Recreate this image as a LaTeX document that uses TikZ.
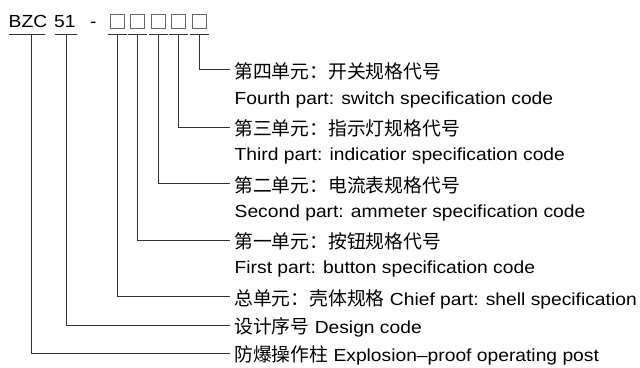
\documentclass[tikz,border=0pt]{standalone}
\usepackage{fontspec}
\setmainfont{Liberation Sans}[FakeStretch=1.1]
\newfontfamily\cjk{Noto Sans CJK SC}
\newcommand{\zh}[1]{{\cjk\fontsize{18.8}{20}\selectfont #1}}
\usetikzlibrary{positioning}

\begin{document}
\begin{tikzpicture}[x=1pt,y=-1pt,
  line/.style={draw=black!80,line width=0.9pt},
  code node/.style={inner sep=0,anchor=base west,font=\fontsize{17.5}{20}\selectfont},
  sq node/.style={rectangle,draw=black!60,line width=0.8pt,minimum width=14pt,minimum height=14pt,inner sep=0},
  zh node/.style={inner sep=0,anchor=west,text height=19.7pt,text depth=2.5pt,font=\fontsize{17.5}{20}\selectfont},
  en node/.style={inner sep=0,anchor=base west,font=\fontsize{17.5}{20}\selectfont}]
  \useasboundingbox (0,0) rectangle (640,367);
  % model code
  \node[code node] (bzc) at (8.5,27.7) {BZC};
  \node[code node] (num) at (54,27.7) {51};
  \node[code node] (dash) at (90,27.7) {-};
  \coordinate (ubzc) at (31,34.3);
  \coordinate (unum) at (66,34.3);
  \draw[line] (9,34.3) -- (45,34.3);
  \draw[line] (54.5,34.3) -- (77,34.3);
  \foreach \i/\x in {1/117.2,2/137.5,3/158.2,4/178.8,5/199.7} {
    \node[sq node] (b\i) at (\x,21.6) {};
    \coordinate (u\i) at (\x,34.3);
    \draw[line] ([xshift=-9.5pt]u\i) -- ([xshift=9.5pt]u\i);
  }
  % labels
  \node[zh node] (l5) at (234,69.5) {\zh{第四单元：开关规格代号}};
  \node[en node] (e5) at (234.5,104.2) {Fourth part: switch specification code};
  \node[zh node] (l4) at (234,127) {\zh{第三单元：指示灯规格代号}};
  \node[en node] (e4) at (234.5,160.7) {Third part: indicatior specification code};
  \node[zh node] (l3) at (234,183.5) {\zh{第二单元：电流表规格代号}};
  \node[en node] (e3) at (234.5,217.2) {Second part: ammeter specification code};
  \node[zh node] (l2) at (234,240) {\zh{第一单元：按钮规格代号}};
  \node[en node] (e2) at (234.5,273.7) {First part: button specification code};
  \node[zh node] (l1) at (234,296.5) {\zh{总单元：壳体规格} Chief part: shell specification};
  \node[zh node] (ld) at (234,325) {\zh{设计序号} Design code};
  \node[zh node] (lx) at (234,353) {\zh{防爆操作柱} Explosion–proof operating post};
  % connectors
  \draw[line] (u5) |- ([xshift=-4pt]l5.west);
  \draw[line] (u4) |- ([xshift=-4pt]l4.west);
  \draw[line] (u3) |- ([xshift=-4pt]l3.west);
  \draw[line] (u2) |- ([xshift=-4pt]l2.west);
  \draw[line] (u1) |- ([xshift=-4pt]l1.west);
  \draw[line] (unum) |- ([xshift=-4pt]ld.west);
  \draw[line] (ubzc) |- ([xshift=-4pt]lx.west);
\end{tikzpicture}
\end{document}
